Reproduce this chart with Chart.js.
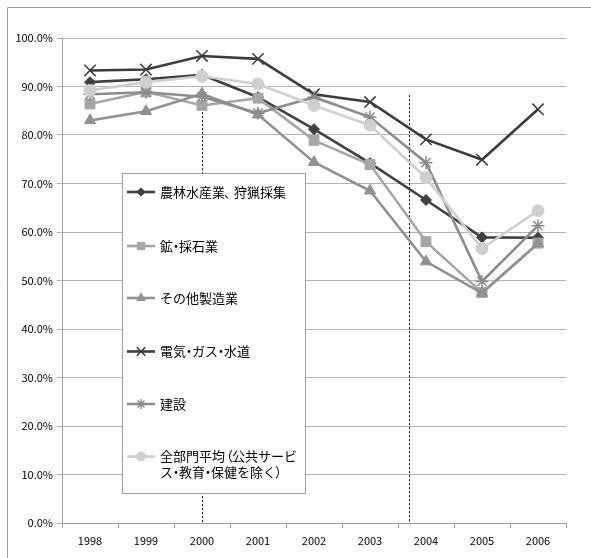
<!DOCTYPE html>
<html lang="ja">
<head>
<meta charset="utf-8">
<title>部門別推移 1998–2006</title>
<script src="https://cdn.jsdelivr.net/npm/chart.js@4/dist/chart.umd.min.js"></script>
<style>
  html, body { margin: 0; padding: 0; background: #ffffff; }
  #wrap { position: relative; width: 591px; height: 558px; }
  canvas { display: block; }
</style>
</head>
<body>
<div id="wrap"><canvas id="chart" width="591" height="558"></canvas></div>
<script>
// Categories (years)
const years = ['1998', '1999', '2000', '2001', '2002', '2003', '2004', '2005', '2006'];

// Series values, in percent
const agriculture   = [90.9, 91.5, 92.4, 87.8, 81.2, 74.2, 66.6, 58.9, 58.8];
const mining        = [86.4, 88.9, 86.1, 87.6, 78.9, 73.9, 58.0, 47.5, 57.7];
const manufacturing = [83.0, 84.9, 88.5, 84.2, 74.4, 68.5, 53.9, 47.4, 57.6];
const utilities     = [93.3, 93.5, 96.3, 95.7, 88.4, 86.8, 79.1, 74.9, 85.3];
const construction  = [88.4, 88.8, 87.9, 84.5, 87.8, 83.7, 74.3, 49.8, 61.3];
const allSectors    = [89.2, 90.9, 92.1, 90.5, 86.1, 82.0, 71.2, 56.6, 64.4];

// Series names
const seriesLabels = [
  '農林水産業、狩猟採集',
  '鉱・採石業',
  'その他製造業',
  '電気・ガス・水道',
  '建設',
  '全部門平均（公共サービ\nス・教育・保健を除く）'
];

// Y-axis tick values
const yTicks = [0, 10, 20, 30, 40, 50, 60, 70, 80, 90, 100];

// Dotted reference lines: position on the category axis and top value
const dividerPositions = [2, 5.7];
const dividerTops = [84.7, 88.2];

const seriesValues = [agriculture, mining, manufacturing, utilities, construction, allSectors];
const seriesStyles = [
  { color: '#404040', point: 'rectRot',  radius: 5.5, pw: 1 },
  { color: '#a6a6a6', point: 'rect',     radius: 7,   pw: 1 },
  { color: '#919191', point: 'triangle', radius: 6.5, pw: 1 },
  { color: '#3c3c3c', point: 'crossRot', radius: 8,   pw: 1.5 },
  { color: '#8c8c8c', point: 'star',     radius: 6.5, pw: 1.5 },
  { color: '#cfcfcf', point: 'circle',   radius: 6,   pw: 1 }
];

const datasets = seriesValues.map((vals, i) => ({
  label: seriesLabels[i],
  data: vals,
  borderColor: seriesStyles[i].color,
  backgroundColor: seriesStyles[i].color,
  pointBackgroundColor: seriesStyles[i].color,
  pointBorderColor: seriesStyles[i].color,
  pointStyle: seriesStyles[i].point,
  pointRadius: seriesStyles[i].radius,
  pointBorderWidth: seriesStyles[i].pw,
  borderWidth: 2.6,
  tension: 0,
  fill: false,
  order: seriesValues.length - i
}));

const FONT_CJK = '"Noto Sans CJK JP", "Noto Sans", sans-serif';

// Proportional advance for punctuation that is set narrow in the legend
const narrowAdvance = { '・': 6, '（': 7, '）': 7, '、': 9 };

function drawProportional(ctx, text, x, y) {
  let cx = x;
  for (const ch of text) {
    const full = ctx.measureText(ch).width;
    const adv = narrowAdvance[ch];
    if (adv !== undefined) {
      let shift = (adv - full) / 2;
      if (ch === '（') shift = adv - full + 1;
      if (ch === '）') shift = -1;
      if (ch === '、') shift = -1;
      ctx.fillText(ch, cx + shift, y);
      cx += adv;
    } else {
      ctx.fillText(ch, cx, y);
      cx += full;
    }
  }
}

// Outer frame along the top and left edges
const framePlugin = {
  id: 'frame',
  beforeDraw(chart) {
    const ctx = chart.ctx;
    ctx.save();
    ctx.strokeStyle = '#9a9a9a';
    ctx.lineWidth = 1;
    ctx.beginPath();
    ctx.moveTo(7.5, chart.height);
    ctx.lineTo(7.5, 7.5);
    ctx.lineTo(chart.width, 7.5);
    ctx.stroke();
    ctx.restore();
  }
};

// Vertical dotted divider lines
const dividerPlugin = {
  id: 'dividers',
  beforeDatasetsDraw(chart) {
    const ctx = chart.ctx;
    const xs = chart.scales.x, ys = chart.scales.y;
    ctx.save();
    ctx.strokeStyle = '#000000';
    ctx.lineWidth = 1;
    ctx.setLineDash([2, 2]);
    dividerPositions.forEach((pos, i) => {
      const x = Math.round(xs.getPixelForValue(pos)) + 0.5;
      ctx.beginPath();
      ctx.moveTo(x, ys.getPixelForValue(dividerTops[i]));
      ctx.lineTo(x, ys.getPixelForValue(0));
      ctx.stroke();
    });
    ctx.restore();
  }
};

// Legend box placed inside the plot area
const innerLegendPlugin = {
  id: 'innerLegend',
  afterDatasetsDraw(chart) {
    const ctx = chart.ctx;
    const box = { left: 122, top: 173, right: 305, bottom: 493 };
    ctx.save();
    ctx.fillStyle = '#ffffff';
    ctx.fillRect(box.left, box.top, box.right - box.left, box.bottom - box.top);
    ctx.strokeStyle = '#a0a0a0';
    ctx.lineWidth = 1;
    ctx.strokeRect(box.left + 0.5, box.top + 0.5, box.right - box.left, box.bottom - box.top);

    const rowY = [192, 246, 298, 351.5, 404, 456.5];
    ctx.font = '13px ' + FONT_CJK;
    ctx.textBaseline = 'middle';
    ctx.textAlign = 'left';
    chart.data.datasets.forEach((ds, i) => {
      const y = rowY[i];
      ctx.strokeStyle = ds.borderColor;
      ctx.lineWidth = 2.6;
      ctx.setLineDash([]);
      ctx.beginPath();
      ctx.moveTo(127, y);
      ctx.lineTo(155, y);
      ctx.stroke();
      ctx.fillStyle = ds.pointBackgroundColor;
      ctx.strokeStyle = ds.pointBorderColor;
      ctx.lineWidth = ds.pointBorderWidth;
      Chart.helpers.drawPoint(ctx, {
        pointStyle: ds.pointStyle,
        radius: ds.pointRadius * 0.75,
        rotation: 0,
        borderWidth: ds.pointBorderWidth
      }, 141, y);
      ctx.fillStyle = '#000000';
      ds.label.split('\n').forEach((line, k) => {
        drawProportional(ctx, line, 160, y + k * 16);
      });
    });
    ctx.restore();
  }
};

new Chart(document.getElementById('chart'), {
  type: 'line',
  data: { labels: years, datasets },
  plugins: [framePlugin, dividerPlugin, innerLegendPlugin],
  options: {
    responsive: false,
    animation: false,
    devicePixelRatio: 1,
    layout: { padding: { left: 0, right: 25, top: 38, bottom: 0 } },
    plugins: {
      legend: { display: false },
      tooltip: { enabled: false },
      title: { display: false }
    },
    scales: {
      x: {
        type: 'category',
        offset: true,
        grid: {
          offset: true,
          drawOnChartArea: false,
          drawTicks: true,
          tickLength: 5,
          color: '#a0a0a0'
        },
        border: { color: '#a0a0a0', width: 1 },
        ticks: {
          color: '#000000',
          font: { family: FONT_CJK, size: 11 },
          padding: 6,
          maxRotation: 0,
          autoSkip: false
        },
        afterFit(scale) { scale.height = 35; }
      },
      y: {
        min: 0,
        max: 100,
        afterBuildTicks(scale) { scale.ticks = yTicks.map(v => ({ value: v })); },
        grid: {
          color: '#b4b4b4',
          lineWidth: 1,
          drawTicks: true,
          tickLength: 5
        },
        border: { color: '#a0a0a0', width: 1 },
        ticks: {
          color: '#000000',
          font: { family: FONT_CJK, size: 11 },
          padding: 4,
          callback: (v) => Number(v).toFixed(1) + '%'
        },
        afterFit(scale) { scale.width = 62; }
      }
    }
  }
});
</script>
</body>
</html>
